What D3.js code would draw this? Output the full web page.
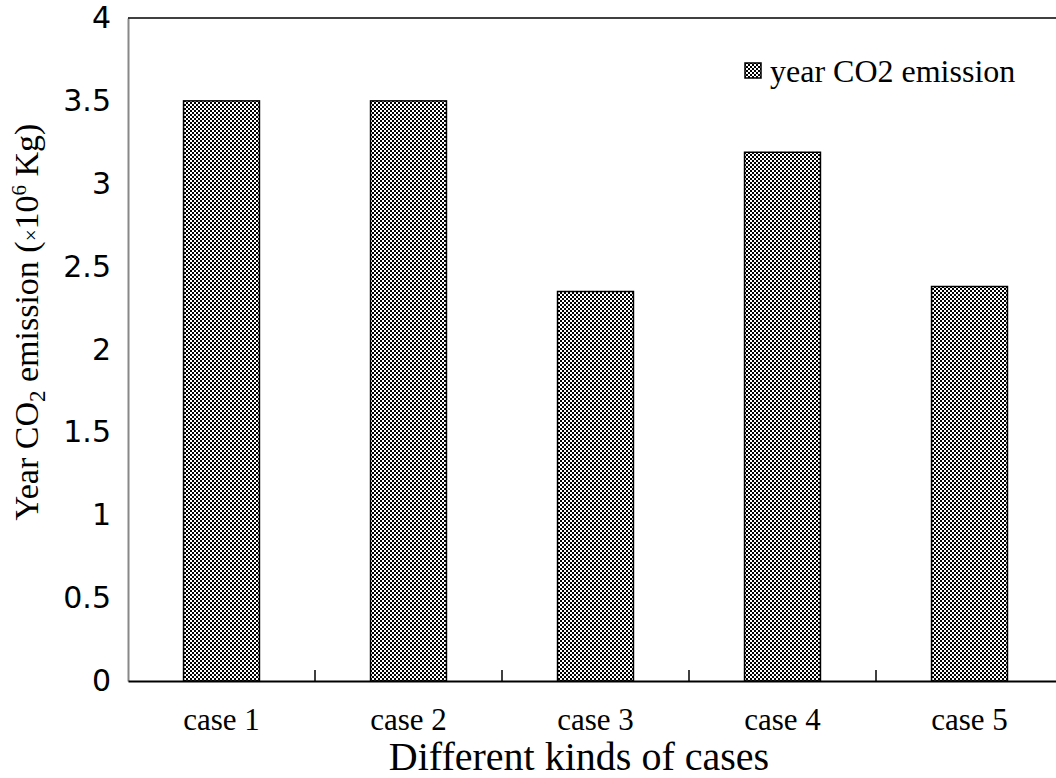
<!DOCTYPE html>
<html><head><meta charset="utf-8">
<script src="https://cdn.jsdelivr.net/npm/d3@7"></script>
<style>body{margin:0;background:#fff;}svg{display:block;}</style>
</head><body>
<script>
const categories = ["case 1","case 2","case 3","case 4","case 5"];
const values = [3.5, 3.5, 2.35, 3.19, 2.38];
const yTicks = [0,0.5,1,1.5,2,2.5,3,3.5,4];
const seriesName = "year CO2 emission";

const W = 1056, H = 778;
const m = {left:128, top:18, right:-7, bottom:97};
const svg = d3.select("body").append("svg").attr("width",W).attr("height",H);

const defs = svg.append("defs");
const pat = defs.append("pattern").attr("id","chk").attr("patternUnits","userSpaceOnUse")
  .attr("width",4).attr("height",4);
pat.append("rect").attr("width",4).attr("height",4).attr("fill","#fff");
pat.append("rect").attr("x",0).attr("y",0).attr("width",2).attr("height",2).attr("fill","#000");
pat.append("rect").attr("x",2).attr("y",2).attr("width",2).attr("height",2).attr("fill","#000");

const x = d3.scaleBand().domain(categories).range([m.left, W - m.right]).paddingInner(0.594).paddingOuter(0.297);
const xb = d3.scaleBand().domain(categories).range([m.left, W - m.right]);
const y = d3.scaleLinear().domain([0,4]).range([H - m.bottom, m.top]);

// bars
svg.append("g").selectAll("rect").data(values).join("rect")
  .attr("x",(d,i)=>x(categories[i]))
  .attr("y",d=>y(d))
  .attr("width",x.bandwidth())
  .attr("height",d=>y(0)-y(d))
  .attr("fill","url(#chk)")
  .attr("stroke","#000").attr("stroke-width",1.5);

// y axis
const ya = svg.append("g").attr("transform",`translate(${m.left},0)`)
  .call(d3.axisLeft(y).tickValues(yTicks).tickSize(0).tickPadding(17).tickFormat(d3.format("")));
ya.select(".domain").attr("stroke","#888").attr("stroke-width",2);
ya.selectAll("text").attr("font-family","'DejaVu Sans', sans-serif").attr("font-size",30).attr("fill","#000");

// top border
svg.append("line").attr("x1",m.left).attr("x2",W).attr("y1",y(4)).attr("y2",y(4))
  .attr("stroke","#000").attr("stroke-width",1.5);

// x axis
const xa = svg.append("g").attr("transform",`translate(0,${y(0)})`)
  .call(d3.axisBottom(xb).tickSize(0).tickPadding(27));
xa.select(".domain").attr("stroke","#000").attr("stroke-width",2);
xa.selectAll("text").attr("font-family","'Liberation Serif', 'Times New Roman', serif").attr("font-size",31).attr("fill","#000");
// boundary ticks (inside)
svg.append("g").selectAll("line").data(categories.slice(1)).join("line")
  .attr("x1",d=>xb(d)).attr("x2",d=>xb(d))
  .attr("y1",y(0)).attr("y2",y(0)-11).attr("stroke","#000").attr("stroke-width",1.5);

// axis titles
svg.append("text").attr("x",579).attr("y",770).attr("text-anchor","middle")
  .attr("font-family","'Liberation Serif', 'Times New Roman', serif").attr("font-size",40)
  .text("Different kinds of cases");

const yt = svg.append("text").attr("transform","translate(38,322) rotate(-90)").attr("text-anchor","middle")
  .attr("font-family","'Liberation Serif', 'Times New Roman', serif").attr("font-size",34);
yt.append("tspan").text("Year CO");
yt.append("tspan").attr("font-size",23).attr("dy",7).text("2");
yt.append("tspan").attr("dy",-7).text(" emission (");
yt.append("tspan").attr("font-size",21).text("×");
yt.append("tspan").text("10");
yt.append("tspan").attr("font-size",21).attr("dy",-12).text("6");
yt.append("tspan").attr("dy",12).text(" Kg)");

// legend
const lg = svg.append("g");
lg.append("rect").attr("x",745).attr("y",63).attr("width",16).attr("height",15)
  .attr("fill","url(#chk)").attr("stroke","#000").attr("stroke-width",1.5);
lg.append("text").attr("x",770).attr("y",82)
  .attr("font-family","'Liberation Serif', 'Times New Roman', serif").attr("font-size",32)
  .text(seriesName);
</script>
</body></html>
